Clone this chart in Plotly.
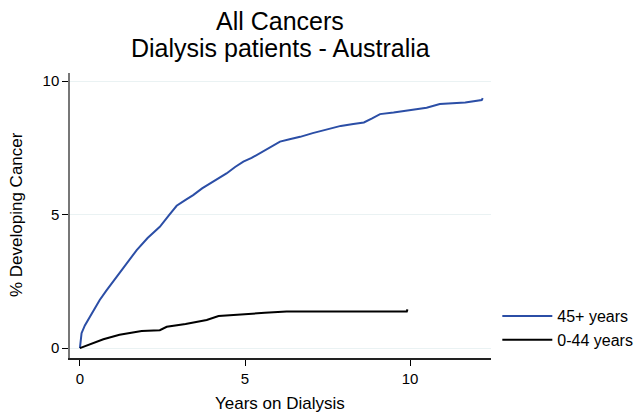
import plotly.graph_objects as go

# 45+ years (blue)
years_45 = [0, 0.02, 0.05, 0.15, 0.3, 0.45, 0.6, 0.8, 1.0, 1.2, 1.41, 1.72, 2.05, 2.42, 2.7, 2.93,
            3.2, 3.43, 3.7, 3.94, 4.2, 4.44, 4.7, 4.95, 5.2, 5.45, 5.75, 6.06, 6.35, 6.67, 7.05,
            7.47, 7.9, 8.28, 8.6, 8.85, 9.09, 9.5, 10.1, 10.5, 10.9, 11.3, 11.67, 12.17, 12.2]
pct_45 = [0, 0.3, 0.56, 0.85, 1.17, 1.5, 1.8, 2.15, 2.48, 2.82, 3.17, 3.67, 4.12, 4.54, 4.98, 5.33,
          5.55, 5.73, 5.98, 6.17, 6.36, 6.54, 6.78, 6.98, 7.12, 7.29, 7.5, 7.73, 7.82, 7.91, 8.05,
          8.19, 8.32, 8.39, 8.45, 8.6, 8.76, 8.82, 8.94, 9.0, 9.14, 9.18, 9.2, 9.29, 9.36]

# 0-44 years (black)
years_044 = [0, 0.3, 0.71, 1.2, 1.87, 2.42, 2.63, 3.2, 3.6, 3.84, 4.2, 4.9, 5.6, 6.26, 9.9, 9.92]
pct_044 = [0, 0.15, 0.33, 0.5, 0.64, 0.67, 0.8, 0.9, 0.98, 1.05, 1.2, 1.27, 1.32, 1.37, 1.37, 1.45]

x_ticks = [0, 5, 10]
y_ticks = [0, 5, 10]

title_line1 = "All Cancers"
title_line2 = "Dialysis patients - Australia"
x_title = "Years on Dialysis"
y_title = "% Developing Cancer"

L, R, T, B = 70, 144, 73, 56
W, H = 635, 414
pw, ph = W - L - R, H - T - B


def px_x(p):
    return (p - L) / pw


def px_y(p):
    return (H - B - p) / ph


fig = go.Figure()
fig.add_trace(go.Scatter(x=years_45, y=pct_45, mode="lines",
                         line=dict(color="#2b4ea6", width=2), name="45+ years",
                         legendgroup="a"))
fig.add_trace(go.Scatter(x=years_044, y=pct_044, mode="lines",
                         line=dict(color="#000000", width=2), name="0-44 years",
                         legendgroup="b"))

font_family = "Liberation Sans, Arial, sans-serif"
fig.update_layout(
    width=W, height=H,
    paper_bgcolor="white", plot_bgcolor="white",
    margin=dict(l=L, r=R, t=T, b=B, autoexpand=False),
    font=dict(family=font_family, size=15, color="#000"),
    showlegend=True,
    legend=dict(x=1.015, y=0.207, xanchor="left", yanchor="top", bgcolor="rgba(0,0,0,0)",
                font=dict(size=16), tracegroupgap=0, itemwidth=50),
    annotations=[
        dict(text=title_line1, xref="paper", yref="paper", x=px_x(280), y=px_y(21),
             xanchor="center", yanchor="middle", showarrow=False, font=dict(size=25)),
        dict(text=title_line2, xref="paper", yref="paper", x=px_x(280), y=px_y(48),
             xanchor="center", yanchor="middle", showarrow=False, font=dict(size=25)),
        dict(text=x_title, xref="paper", yref="paper", x=px_x(280), y=px_y(403),
             xanchor="center", yanchor="middle", showarrow=False, font=dict(size=17)),
        dict(text=y_title, xref="paper", yref="paper", x=px_x(16), y=px_y(215),
             xanchor="center", yanchor="middle", showarrow=False, textangle=-90,
             font=dict(size=17)),
    ],
)
fig.update_xaxes(range=[-0.3, 12.45], tickvals=x_ticks, ticks="outside", ticklen=6,
                 tickcolor="#000", showline=True, linecolor="#222", linewidth=1.5,
                 showgrid=False, zeroline=False, automargin=False)
fig.update_yaxes(range=[-0.37, 10.3], tickvals=y_ticks, ticks="outside", ticklen=6,
                 tickcolor="#000", showline=True, linecolor="#777", linewidth=1.5,
                 showgrid=True, gridcolor="#eaf2f3", gridwidth=1, zeroline=False,
                 automargin=False)

fig.write_html("out.html", config={"displayModeBar": False},
               post_script="document.body.style.margin='0';document.body.style.overflow='hidden';")
